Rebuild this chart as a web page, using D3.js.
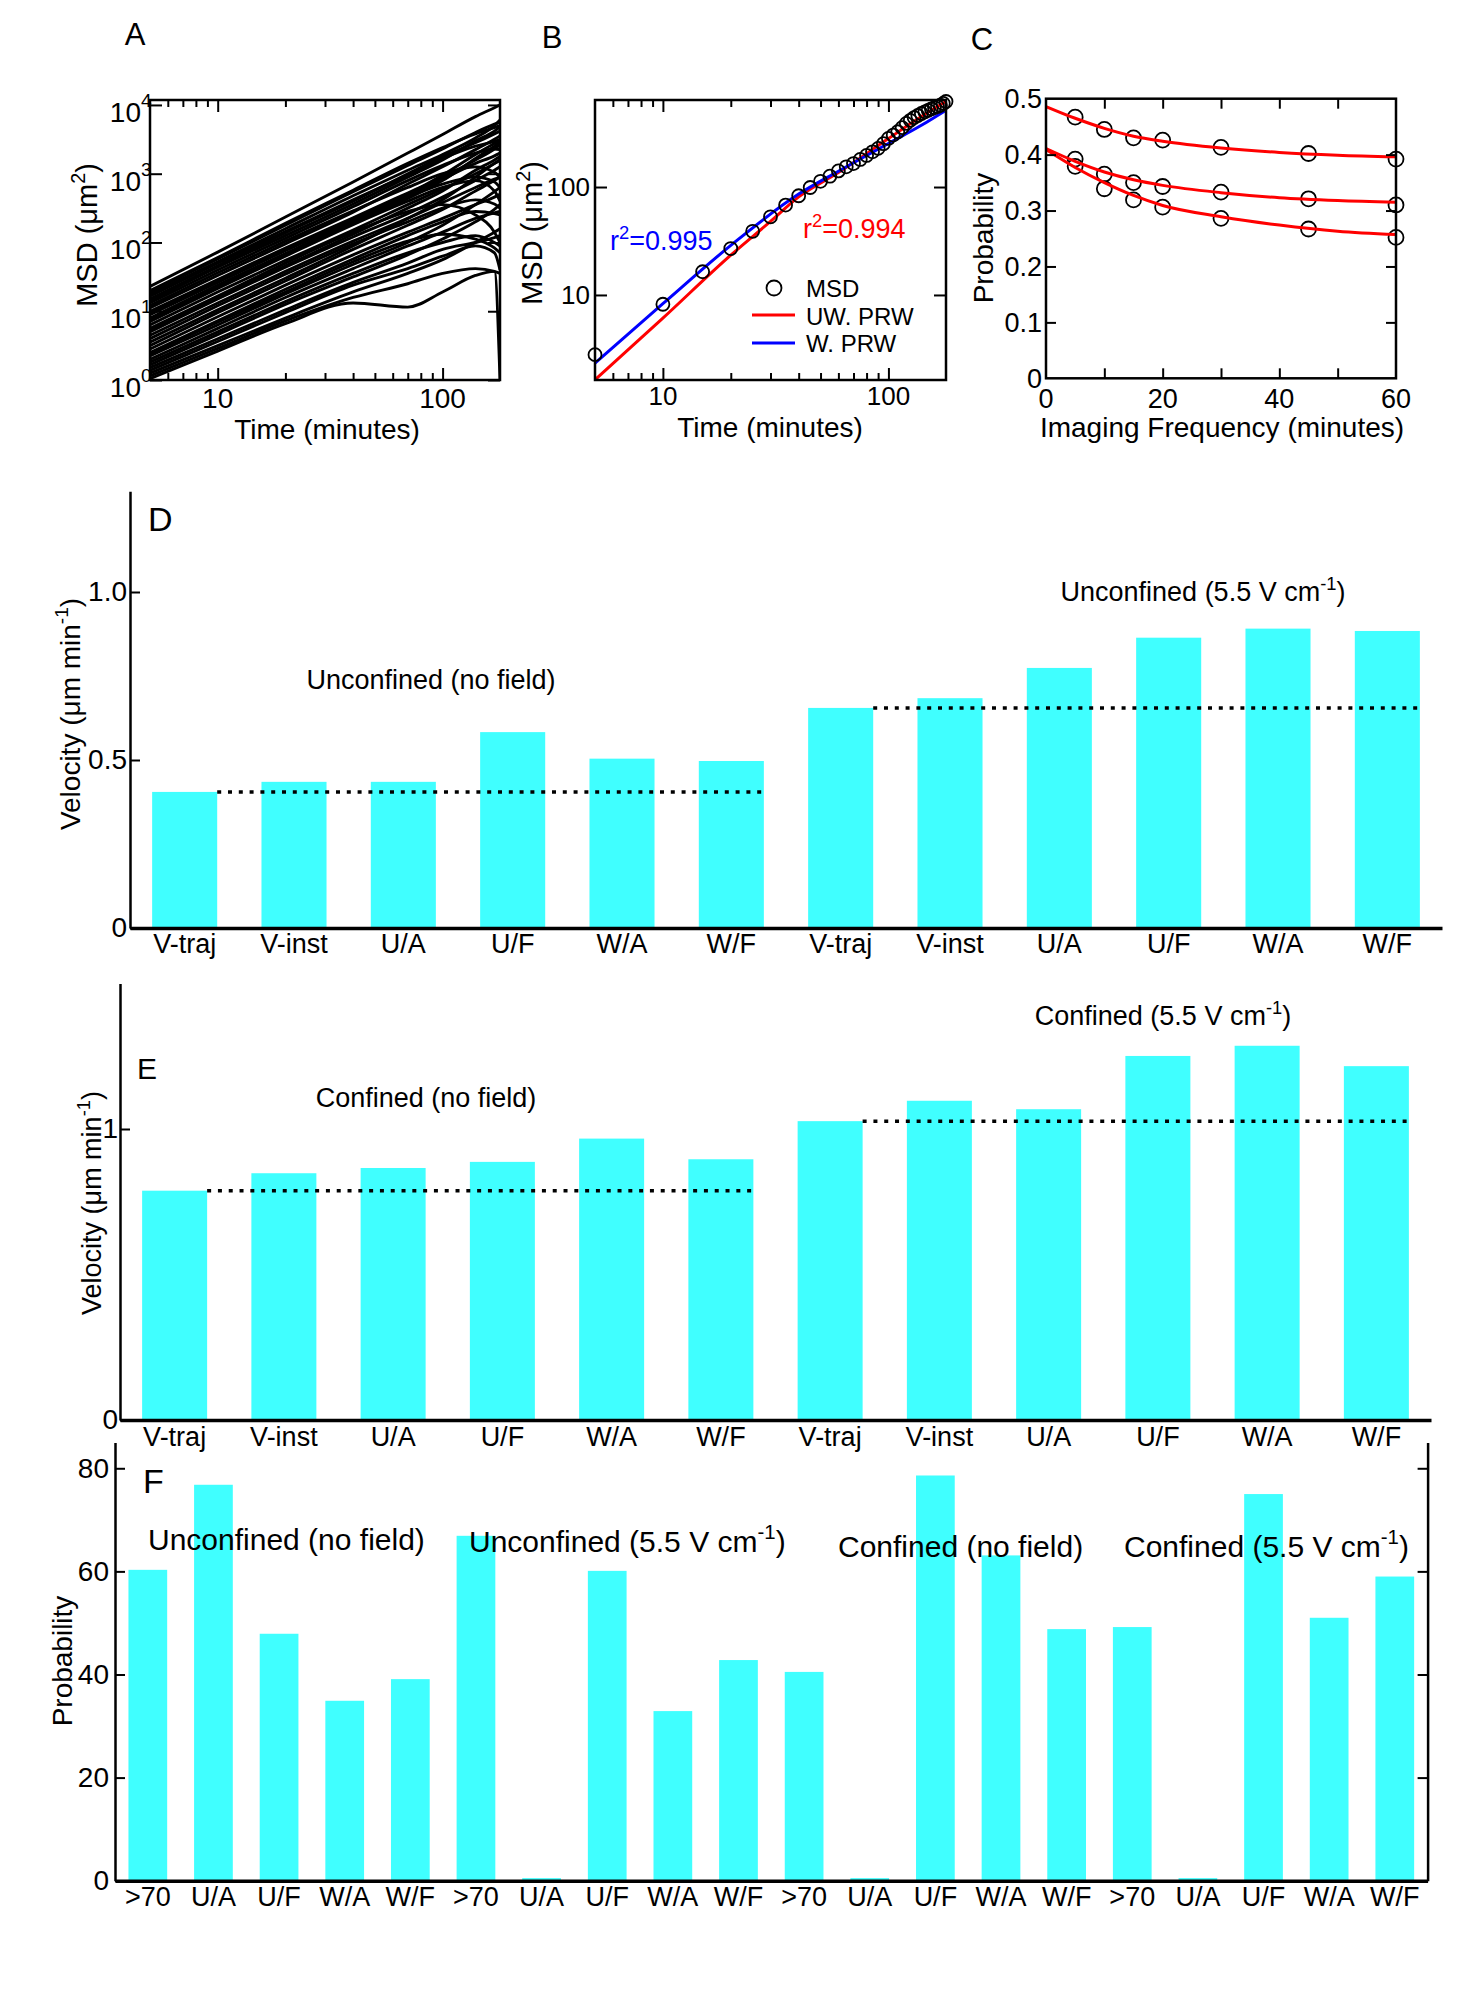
<!DOCTYPE html>
<html>
<head>
<meta charset="utf-8">
<script src="https://cdn.jsdelivr.net/npm/d3@7"></script>
<style>
  body { margin: 0; background: #fff; }
  svg { display: block; font-family: "Liberation Sans", Arial, sans-serif; }
</style>
</head>
<body>
<svg id="fig" width="1481" height="2000"></svg>
<script>
// ---- data ----

// A: log10 MSD of every cell track, sampled at these times (min)
const trackTimes = [5, 10, 20, 40, 70, 100, 140, 170, 180]
const trackLogMsd = [
  [1.36, 1.86, 2.37, 2.88, 3.30, 3.57, 3.83, 3.96, 4.00],
  [1.30, 1.78, 2.28, 2.76, 3.15, 3.38, 3.58, 3.67, 3.70],
  [1.25, 1.72, 2.20, 2.68, 3.05, 3.28, 3.52, 3.70, 3.78],
  [1.22, 1.70, 2.16, 2.62, 2.98, 3.22, 3.40, 3.47, 3.50],
  [1.18, 1.66, 2.14, 2.60, 3.00, 3.25, 3.45, 3.58, 3.62],
  [1.12, 1.60, 2.06, 2.52, 2.90, 3.12, 3.30, 3.36, 3.35],
  [1.08, 1.56, 2.02, 2.46, 2.80, 3.00, 3.10, 3.02, 2.95],
  [1.05, 1.52, 1.98, 2.44, 2.85, 3.10, 3.35, 3.50, 3.55],
  [1.00, 1.46, 1.92, 2.36, 2.72, 2.95, 3.20, 3.36, 3.42],
  [0.95, 1.42, 1.88, 2.32, 2.66, 2.85, 2.95, 2.88, 2.80],
  [0.90, 1.38, 1.84, 2.30, 2.68, 2.92, 3.15, 3.26, 3.30],
  [0.85, 1.33, 1.80, 2.26, 2.60, 2.80, 2.90, 2.75, 2.60],
  [0.80, 1.28, 1.74, 2.18, 2.55, 2.78, 3.00, 3.15, 3.20],
  [0.75, 1.22, 1.70, 2.15, 2.45, 2.55, 2.40, 2.15, 2.00],
  [0.70, 1.18, 1.64, 2.08, 2.42, 2.66, 2.90, 3.05, 3.10],
  [0.65, 1.12, 1.58, 2.02, 2.35, 2.58, 2.80, 2.92, 2.95],
  [0.60, 1.08, 1.54, 1.98, 2.30, 2.50, 2.62, 2.56, 2.50],
  [1.15, 1.64, 2.10, 2.56, 2.95, 3.20, 3.48, 3.62, 3.68],
  [0.98, 1.44, 1.90, 2.34, 2.70, 2.98, 3.28, 3.44, 3.48],
  [0.72, 1.20, 1.66, 2.12, 2.50, 2.75, 3.05, 3.20, 3.25],
  [0.50, 0.98, 1.44, 1.90, 2.25, 2.48, 2.75, 2.90, 2.95],
  [0.45, 0.92, 1.38, 1.82, 2.15, 2.35, 2.55, 2.66, 2.70],
  [0.40, 0.86, 1.32, 1.76, 2.10, 2.30, 2.45, 2.42, 2.40],
  [0.35, 0.80, 1.25, 1.68, 2.00, 2.25, 2.55, 2.74, 2.80],
  [0.30, 0.75, 1.20, 1.62, 1.95, 2.15, 2.35, 2.43, 2.45],
  [0.26, 0.70, 1.14, 1.55, 1.85, 2.00, 2.10, 2.00, 1.95],
  [0.22, 0.66, 1.10, 1.50, 1.82, 2.05, 2.30, 2.48, 2.55],
  [0.18, 0.60, 1.02, 1.42, 1.70, 1.90, 2.00, 2.07, 2.10],
  [0.14, 0.56, 0.98, 1.38, 1.62, 1.80, 1.95, 1.85, 1.60],
  [0.10, 0.50, 0.90, 1.28, 1.55, 1.75, 2.00, 2.15, 2.20],
  [0.06, 0.46, 0.86, 1.20, 1.40, 1.55, 1.62, 1.58, 1.55],
  [0.02, 0.42, 0.82, 1.12, 1.06, 1.28, 1.52, 1.58, 0.00],
  [0.55, 1.02, 1.48, 1.95, 2.35, 2.62, 2.95, 3.15, 3.20],
  [1.28, 1.76, 2.25, 2.74, 3.12, 3.36, 3.60, 3.72, 3.75],
  [0.88, 1.36, 1.82, 2.28, 2.64, 2.90, 3.22, 3.40, 3.45],
  [0.38, 0.84, 1.28, 1.72, 2.02, 2.12, 2.05, 1.92, 1.85]
]

// B: mean MSD (um^2) every 5 min, and the two PRW fits
const msdTimes = [5, 10, 15, 20, 25, 30, 35, 40, 45, 50, 55, 60, 65, 70, 75, 80, 85, 90,
  95, 100, 105, 110, 115, 120, 125, 130, 135, 140, 145, 150, 155, 160, 165, 170, 175, 180]
const msdValues = [2.8, 8.2, 16.4, 26.9, 38.9, 53, 68, 83, 99, 113, 126, 141, 154, 165, 180, 196, 212, 228,
  252, 282, 303, 325, 355, 388, 415, 440, 460, 480, 497, 514, 530, 545, 558, 572, 595, 620]
const uwFitTimes = [5, 10, 20, 30, 40, 60, 100, 140, 180]
const uwFitMsd = [1.64, 6.1, 23.4, 48, 81, 136, 281, 450, 620]
const wFitTimes = [5, 10, 20, 40, 60, 100, 140, 180]
const wFitMsd = [2.34, 8.3, 28.8, 86, 140, 253, 373, 515]

// C: probability vs imaging frequency (three series + fits)
const freqTimes = [5, 10, 15, 20, 30, 45, 60]
const probTop = [0.467, 0.445, 0.430, 0.426, 0.413, 0.402, 0.392]
const probMid = [0.392, 0.365, 0.350, 0.343, 0.333, 0.321, 0.310]
const probLow = [0.379, 0.339, 0.319, 0.306, 0.286, 0.267, 0.252]
const fitTimes = [0, 5, 10, 15, 20, 30, 40, 50, 60]
const fitTop = [0.486, 0.465, 0.447, 0.433, 0.424, 0.412, 0.404, 0.399, 0.396]
const fitMid = [0.411, 0.388, 0.369, 0.355, 0.345, 0.332, 0.323, 0.318, 0.315]
const fitLow = [0.409, 0.377, 0.350, 0.327, 0.309, 0.289, 0.274, 0.263, 0.257]

// D, E: velocities (um/min)
const velocityCats = ['V-traj', 'V-inst', 'U/A', 'U/F', 'W/A', 'W/F']
const unconfNoField = [0.405, 0.435, 0.435, 0.583, 0.504, 0.497]
const unconfField = [0.655, 0.684, 0.774, 0.864, 0.891, 0.884]
const confNoField = [0.788, 0.848, 0.866, 0.887, 0.967, 0.896]
const confField = [1.027, 1.097, 1.068, 1.251, 1.286, 1.216]

// F: probabilities (%)
const probCats = ['>70', 'U/A', 'U/F', 'W/A', 'W/F']
const fUnconfNoField = [60.3, 76.8, 47.9, 34.9, 39.1]
const fUnconfField = [66.9, 0.5, 60.1, 32.9, 42.8]
const fConfNoField = [40.5, 0.5, 78.6, 63.1, 48.8]
const fConfField = [49.2, 0.5, 75.0, 51.0, 59.0]

const CYAN = '#40ffff'
const RED = '#ff0000'
const BLUE = '#0000ff'

const svg = d3.select('#fig')

// text with optional superscript parts: parts = [[str, isSup], ...]
function richText(parent, x, y, parts, size, opts = {}) {
  const t = parent.append('text')
    .attr('transform', `translate(${x},${y})` + (opts.rotate ? ` rotate(${opts.rotate})` : ''))
    .attr('text-anchor', opts.anchor || 'start')
    .attr('font-size', size)
    .attr('fill', opts.color || '#000')
  let raised = false
  parts.forEach(([str, sup]) => {
    const s = t.append('tspan').text(str)
    if (sup && !raised) { s.attr('dy', -size * 0.42).attr('font-size', size * 0.68); raised = true }
    else if (!sup && raised) { s.attr('dy', size * 0.42); raised = false }
  })
  return t
}

// boxed frame with inward ticks on all four sides
function boxFrame(g, x, y, xTicks, yTicks) {
  const [x0, x1] = x.range(), [y0, y1] = y.range()
  const sides = [
    [d3.axisBottom(x), xTicks, `translate(0,${y0})`],
    [d3.axisTop(x), xTicks, `translate(0,${y1})`],
    [d3.axisLeft(y), yTicks, `translate(${x0},0)`],
    [d3.axisRight(y), yTicks, `translate(${x1},0)`]
  ]
  sides.forEach(([axis, sets, tr]) => {
    sets.forEach(([vals, len]) => {
      g.append('g').attr('transform', tr)
        .call(axis.tickValues(vals).tickSize(-len).tickSizeOuter(0).tickFormat(''))
        .call(a => a.select('.domain').remove())
        .selectAll('line').attr('stroke-width', 2)
    })
  })
  g.append('rect')
    .attr('x', x0).attr('y', y1).attr('width', x1 - x0).attr('height', y0 - y1)
    .attr('fill', 'none').attr('stroke', '#000').attr('stroke-width', 2.5)
}

// ================= A =================
const gA = svg.append('g')
const xA = d3.scaleLog().domain([5, 180]).range([150, 500])
const yA = d3.scaleLog().domain([1, 11800]).range([380, 100])
const logMinor = [6, 7, 8, 9, 20, 30, 40, 50, 60, 70, 80, 90]

gA.append('clipPath').attr('id', 'clipA')
  .append('rect').attr('x', 150).attr('y', 100).attr('width', 350).attr('height', 280)

const trackLine = d3.line()
  .x((d, i) => xA(trackTimes[i]))
  .y(d => yA(Math.pow(10, d)))
  .curve(d3.curveMonotoneX)

gA.append('g').attr('clip-path', 'url(#clipA)')
  .selectAll('path').data(trackLogMsd).join('path')
  .attr('d', trackLine)
  .attr('fill', 'none').attr('stroke', '#000').attr('stroke-width', 2.9)

boxFrame(gA, xA, yA, [[[10, 100], 12], [logMinor, 7]], [[[1, 10, 100, 1000, 10000], 12]])

gA.selectAll('text.xt').data([10, 100]).join('text')
  .attr('x', d => xA(d)).attr('y', 408).attr('text-anchor', 'middle')
  .attr('font-size', 28).text(d => d)
gA.selectAll('text.yt').data([0, 1, 2, 3, 4]).join('text')
  .attr('x', 141).attr('y', d => yA(Math.pow(10, d)) + 17).attr('text-anchor', 'end')
  .attr('font-size', 28).text('10')
gA.selectAll('text.ys').data([0, 1, 2, 3, 4]).join('text')
  .attr('x', 141).attr('y', d => yA(Math.pow(10, d)) + 2)
  .attr('font-size', 19).text(d => d)

gA.append('text').attr('x', 327).attr('y', 439).attr('text-anchor', 'middle')
  .attr('font-size', 28).text('Time (minutes)')
richText(gA, 97, 235, [['MSD (\u03bcm'], ['2', true], [')']], 29, { rotate: -90, anchor: 'middle' })
gA.append('text').attr('x', 135).attr('y', 45).attr('text-anchor', 'middle').attr('font-size', 31).text('A')

// ================= B =================
const gB = svg.append('g')
const xB = d3.scaleLog().domain([5, 180]).range([595, 946])
const yB = d3.scaleLog().domain([1.63, 640]).range([380, 100])

const fitLine = d3.line().x(d => xB(d[0])).y(d => yB(d[1])).curve(d3.curveMonotoneX)
gB.append('path').attr('d', fitLine(d3.zip(uwFitTimes, uwFitMsd)))
  .attr('fill', 'none').attr('stroke', RED).attr('stroke-width', 3)
gB.append('path').attr('d', fitLine(d3.zip(wFitTimes, wFitMsd)))
  .attr('fill', 'none').attr('stroke', BLUE).attr('stroke-width', 3)
gB.selectAll('circle').data(d3.zip(msdTimes, msdValues)).join('circle')
  .attr('cx', d => xB(d[0])).attr('cy', d => yB(d[1])).attr('r', 6.5)
  .attr('fill', 'none').attr('stroke', '#000').attr('stroke-width', 1.8)

boxFrame(gB, xB, yB, [[[10, 100], 12], [logMinor, 7]], [[[10, 100], 12]])

gB.selectAll('text.xt').data([10, 100]).join('text')
  .attr('x', d => xB(d)).attr('y', 405).attr('text-anchor', 'middle')
  .attr('font-size', 26).text(d => d)
gB.selectAll('text.yt').data([10, 100]).join('text')
  .attr('x', 590).attr('y', d => yB(d)).attr('dy', '0.35em').attr('text-anchor', 'end')
  .attr('font-size', 26).text(d => d)

richText(gB, 610, 250, [['r'], ['2', true], ['=0.995']], 27, { color: BLUE })
richText(gB, 803, 238, [['r'], ['2', true], ['=0.994']], 27, { color: RED })

// legend
gB.append('circle').attr('cx', 774).attr('cy', 288).attr('r', 7.5)
  .attr('fill', 'none').attr('stroke', '#000').attr('stroke-width', 1.8)
gB.append('line').attr('x1', 752).attr('x2', 795).attr('y1', 315).attr('y2', 315)
  .attr('stroke', RED).attr('stroke-width', 3)
gB.append('line').attr('x1', 752).attr('x2', 795).attr('y1', 343).attr('y2', 343)
  .attr('stroke', BLUE).attr('stroke-width', 3)
gB.selectAll('text.leg').data(['MSD', 'UW. PRW', 'W. PRW']).join('text')
  .attr('x', 806).attr('y', (d, i) => 297 + i * 27.5).attr('font-size', 24).text(d => d)

gB.append('text').attr('x', 770).attr('y', 437).attr('text-anchor', 'middle')
  .attr('font-size', 28).text('Time (minutes)')
richText(gB, 542, 233, [['MSD (\u03bcm'], ['2', true], [')']], 29, { rotate: -90, anchor: 'middle' })
gB.append('text').attr('x', 552).attr('y', 48).attr('text-anchor', 'middle').attr('font-size', 31).text('B')

// ================= C =================
const gC = svg.append('g')
const xC = d3.scaleLinear().domain([0, 60]).range([1046, 1396])
const yC = d3.scaleLinear().domain([0, 0.5]).range([378.3, 98.7])

const cSeries = [probTop, probMid, probLow]
cSeries.forEach(vals => {
  gC.append('g').selectAll('circle').data(d3.zip(freqTimes, vals)).join('circle')
    .attr('cx', d => xC(d[0])).attr('cy', d => yC(d[1])).attr('r', 7.5)
    .attr('fill', 'none').attr('stroke', '#000').attr('stroke-width', 1.8)
})
const cLine = d3.line().x(d => xC(d[0])).y(d => yC(d[1])).curve(d3.curveMonotoneX)
;[fitTop, fitMid, fitLow].forEach(vals => {
  gC.append('path').attr('d', cLine(d3.zip(fitTimes, vals)))
    .attr('fill', 'none').attr('stroke', RED).attr('stroke-width', 3)
})

boxFrame(gC, xC, yC, [[[10, 20, 30, 40, 50], 10]], [[[0.1, 0.2, 0.3, 0.4], 10]])

gC.selectAll('text.xt').data([0, 20, 40, 60]).join('text')
  .attr('x', d => xC(d)).attr('y', 408).attr('text-anchor', 'middle')
  .attr('font-size', 27).text(d => d)
gC.selectAll('text.yt').data([0, 0.1, 0.2, 0.3, 0.4, 0.5]).join('text')
  .attr('x', 1042).attr('y', d => yC(d)).attr('dy', '0.35em').attr('text-anchor', 'end')
  .attr('font-size', 27).text(d => d)

gC.append('text').attr('x', 1222).attr('y', 437).attr('text-anchor', 'middle')
  .attr('font-size', 28).text('Imaging Frequency (minutes)')
gC.append('text').attr('transform', 'translate(993,238) rotate(-90)').attr('text-anchor', 'middle')
  .attr('font-size', 28).text('Probability')
gC.append('text').attr('x', 982).attr('y', 50).attr('text-anchor', 'middle').attr('font-size', 31).text('C')

// ================= bar panels =================
function barPanel(cfg) {
  const g = svg.append('g')
  const n = cfg.values.length
  const x = d3.scaleBand().domain(d3.range(n)).range(cfg.xRange)
    .paddingInner(cfg.pad).paddingOuter(cfg.pad / 2)
  const y = d3.scaleLinear().domain(cfg.yDomain).range(cfg.yRange)

  g.selectAll('rect').data(cfg.values).join('rect')
    .attr('x', (d, i) => x(i)).attr('width', x.bandwidth())
    .attr('y', d => y(d)).attr('height', d => y(0) - y(d))
    .attr('fill', CYAN)

  // reference (dotted) lines at the first bar of each group
  if (cfg.groupSize) {
    const starts = d3.range(0, n, cfg.groupSize)
    g.selectAll('line.ref').data(starts).join('line')
      .attr('x1', i => x(i) + x.bandwidth())
      .attr('x2', i => x(i + cfg.groupSize - 1) + x.bandwidth())
      .attr('y1', i => y(cfg.values[i])).attr('y2', i => y(cfg.values[i]))
      .attr('stroke', '#000').attr('stroke-width', 3.5).attr('stroke-dasharray', '4,6.8')
  }

  const yAxis = g.append('g').attr('transform', `translate(${cfg.xRange[0]},0)`)
    .call(d3.axisLeft(y).tickValues(cfg.yTicks).tickSize(-10).tickSizeOuter(0)
      .tickPadding(cfg.yPad).tickFormat(cfg.yFmt))
  yAxis.attr('font-size', 28).attr('font-family', null)
  yAxis.select('.domain').attr('stroke-width', 2.5)
  yAxis.selectAll('line').attr('stroke-width', 2)

  if (cfg.rightAxis) {
    const r = g.append('g').attr('transform', `translate(${cfg.xRange[1]},0)`)
      .call(d3.axisRight(y).tickValues(cfg.yTicks).tickSize(-10).tickSizeOuter(0).tickFormat(''))
    r.select('.domain').attr('stroke-width', 2.5)
    r.selectAll('line').attr('stroke-width', 2)
  }

  const xAxis = g.append('g').attr('transform', `translate(0,${cfg.yRange[0]})`)
    .call(d3.axisBottom(x).tickSize(0).tickSizeOuter(0).tickPadding(cfg.xPad)
      .tickFormat(i => cfg.labels[i]))
  xAxis.attr('font-size', 27).attr('font-family', null)
  xAxis.select('.domain').attr('stroke-width', 3.5)

  cfg.titles.forEach(t => {
    richText(g, t.x, t.y, t.parts, t.size, { anchor: t.anchor })
  })
  g.append('text').attr('x', cfg.letter.x).attr('y', cfg.letter.y)
    .attr('font-size', cfg.letter.size).text(cfg.letter.text)
  richText(g, cfg.yLabel.x, cfg.yLabel.y, cfg.yLabel.parts, cfg.yLabel.size,
    { rotate: -90, anchor: 'middle' })
  return g
}

const velocityLabel = [['Velocity (\u03bcm min'], ['-1', true], [')']]
const fieldSup = (name) => [[name + ' (5.5 V cm'], ['-1', true], [')']]
const fmtVel = d => d === 0 ? '0' : d3.format('.1f')(d)

// D
barPanel({
  values: unconfNoField.concat(unconfField),
  labels: velocityCats.concat(velocityCats),
  groupSize: 6,
  xRange: [130, 1442], pad: 0.405,
  yDomain: [0, 1.3], yRange: [928, 491.2],
  yTicks: [0, 0.5, 1.0], yFmt: fmtVel, yPad: 3, xPad: 5.5,
  titles: [
    { x: 431, y: 689, parts: [['Unconfined (no field)']], size: 27, anchor: 'middle' },
    { x: 1203, y: 601, parts: fieldSup('Unconfined'), size: 27, anchor: 'middle' }
  ],
  letter: { x: 148, y: 531, size: 34, text: 'D' },
  yLabel: { x: 80, y: 714, parts: velocityLabel, size: 28 }
})

// E
barPanel({
  values: confNoField.concat(confField),
  labels: velocityCats.concat(velocityCats),
  groupSize: 6,
  xRange: [120, 1431], pad: 0.405,
  yDomain: [0, 1.5], yRange: [1420, 983.5],
  yTicks: [0, 1], yFmt: d => d, yPad: 2, xPad: 6.5,
  titles: [
    { x: 426, y: 1107, parts: [['Confined (no field)']], size: 27, anchor: 'middle' },
    { x: 1163, y: 1025, parts: fieldSup('Confined'), size: 27, anchor: 'middle' }
  ],
  letter: { x: 137, y: 1079, size: 30, text: 'E' },
  yLabel: { x: 101, y: 1203, parts: velocityLabel, size: 27 }
})

// F
barPanel({
  values: fUnconfNoField.concat(fUnconfField, fConfNoField, fConfField),
  labels: probCats.concat(probCats, probCats, probCats),
  xRange: [115, 1427.6], pad: 0.41,
  yDomain: [0, 85], yRange: [1880.7, 1442.5],
  yTicks: [0, 20, 40, 60, 80], yFmt: d => d, yPad: 6, xPad: 6,
  rightAxis: true,
  titles: [
    { x: 148, y: 1550, parts: [['Unconfined (no field)']], size: 30, anchor: 'start' },
    { x: 469, y: 1552, parts: fieldSup('Unconfined'), size: 30, anchor: 'start' },
    { x: 838, y: 1557, parts: [['Confined (no field)']], size: 30, anchor: 'start' },
    { x: 1124, y: 1557, parts: fieldSup('Confined'), size: 30, anchor: 'start' }
  ],
  letter: { x: 143, y: 1493, size: 34, text: 'F' },
  yLabel: { x: 72, y: 1661, parts: [['Probability']], size: 28 }
})
</script>
</body>
</html>
